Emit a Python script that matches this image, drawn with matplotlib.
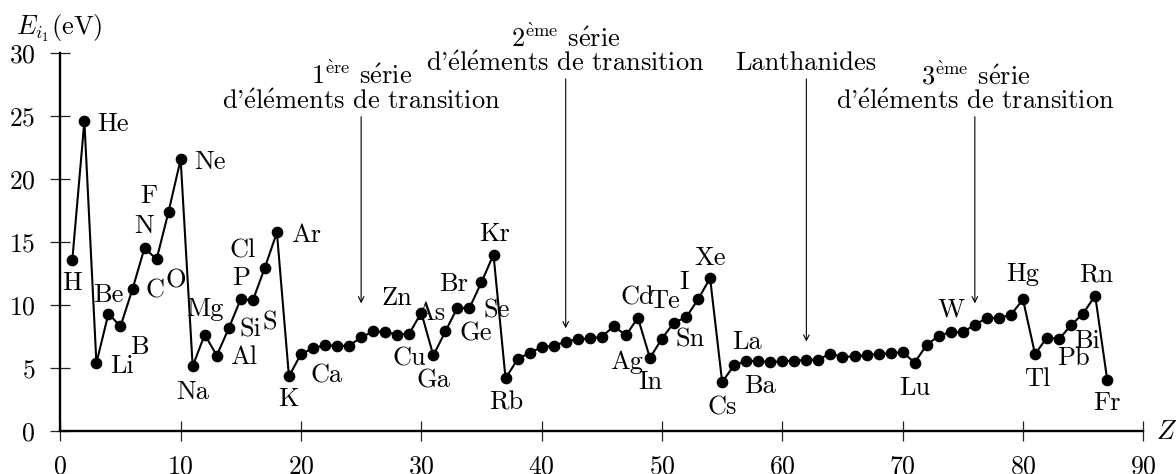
import numpy as np
import matplotlib
matplotlib.use("Agg")
from matplotlib import pyplot as plt

# numéro atomique, symbole, énergie de première ionisation (eV)
Z = np.arange(1, 88)
symbols = ["H", "He", "Li", "Be", "B", "C", "N", "O", "F", "Ne",
           "Na", "Mg", "Al", "Si", "P", "S", "Cl", "Ar", "K", "Ca",
           "Sc", "Ti", "V", "Cr", "Mn", "Fe", "Co", "Ni", "Cu", "Zn",
           "Ga", "Ge", "As", "Se", "Br", "Kr", "Rb", "Sr", "Y", "Zr",
           "Nb", "Mo", "Tc", "Ru", "Rh", "Pd", "Ag", "Cd", "In", "Sn",
           "Sb", "Te", "I", "Xe", "Cs", "Ba", "La", "Ce", "Pr", "Nd",
           "Pm", "Sm", "Eu", "Gd", "Tb", "Dy", "Ho", "Er", "Tm", "Yb",
           "Lu", "Hf", "Ta", "W", "Re", "Os", "Ir", "Pt", "Au", "Hg",
           "Tl", "Pb", "Bi", "Po", "At", "Rn", "Fr"]
E = [13.60, 24.59, 5.39, 9.32, 8.30, 11.26, 14.53, 13.62, 17.42, 21.56,
     5.14, 7.65, 5.99, 8.15, 10.49, 10.36, 12.97, 15.76, 4.34, 6.11,
     6.56, 6.83, 6.75, 6.77, 7.43, 7.90, 7.88, 7.64, 7.73, 9.39,
     6.00, 7.90, 9.79, 9.75, 11.81, 14.00, 4.18, 5.69, 6.22, 6.63,
     6.76, 7.09, 7.28, 7.36, 7.46, 8.34, 7.58, 8.99, 5.79, 7.34,
     8.61, 9.01, 10.45, 12.13, 3.89, 5.21, 5.58, 5.54, 5.47, 5.53,
     5.58, 5.64, 5.67, 6.15, 5.86, 5.94, 6.02, 6.11, 6.18, 6.25,
     5.43, 6.83, 7.55, 7.86, 7.83, 8.44, 8.97, 8.96, 9.23, 10.44,
     6.11, 7.42, 7.29, 8.41, 9.32, 10.75, 4.07]

# position des étiquettes (Z, E)
label_pos = {
    "H": (1.0, 11.72), "He": (4.41, 24.37), "Li": (5.10, 5.18), "Be": (3.99, 10.79),
    "B": (6.57, 6.69), "C": (7.87, 11.13), "O": (9.62, 11.90), "N": (6.96, 16.27),
    "F": (7.37, 18.65), "Ne": (12.45, 21.37), "Na": (11.01, 3.12), "Mg": (12.03, 9.66),
    "Al": (15.27, 5.85), "Si": (15.83, 8.07), "S": (17.43, 8.60), "P": (15.0, 12.12),
    "Cl": (15.13, 14.29), "Ar": (20.42, 15.56), "K": (18.99, 2.52), "Ca": (22.14, 4.37),
    "Zn": (27.96, 10.58), "As": (30.73, 9.39), "Cu": (29.01, 5.77), "Ga": (31.0, 3.97),
    "Br": (32.67, 11.67), "Se": (36.28, 9.55), "Ge": (34.53, 7.70), "Kr": (36.08, 15.63),
    "Rb": (37.02, 2.25), "Cd": (47.99, 10.61), "Te": (50.18, 10.32), "I": (51.87, 11.85),
    "Sn": (52.34, 7.22), "Ag": (47.02, 5.50), "In": (49.02, 3.91), "Xe": (54.01, 13.71),
    "Cs": (55.03, 1.88), "La": (57.06, 7.09), "Ba": (58.16, 3.60), "Lu": (71.05, 3.44),
    "W": (74.04, 9.60), "Hg": (80.0, 12.46), "Tl": (81.16, 4.13), "Pb": (84.15, 5.82),
    "Bi": (85.32, 7.17), "Rn": (86.07, 12.38), "Fr": (86.98, 2.25),
}

plt.rcParams['font.family'] = ['cmr10', 'DejaVu Serif']
plt.rcParams['mathtext.fontset'] = 'cm'
plt.rcParams['axes.formatter.use_mathtext'] = True
fs = 19

E_AIGU = r'$\acute{\mathrm{e}}$'


def fr(s):
    # cmr10 n'a pas de é : on passe par mathtext
    return s.replace('é', E_AIGU)


fig = plt.figure(figsize=(11.76, 4.74), dpi=100)
ax = fig.add_axes([0.05128, 0.09072, 0.92092, 0.79747])

ax.plot(Z, E, color='black', lw=1.5, marker='o', markersize=7.4, zorder=3)

for s in label_pos:
    x, y = label_pos[s]
    ax.text(x, y, s, ha='center', va='center', fontsize=fs)

# annotations
ligne2 = fr("d'éléments de transition")
ax.text(25.05, 28.25, r'1$^{\mathrm{\grave{e}re}}$ ' + fr('série'), ha='center', va='center', fontsize=fs)
ax.text(25.05, 26.13, ligne2, ha='center', va='center', fontsize=fs)
ax.text(42.0, 31.17, r'2$^{\mathrm{\grave{e}me}}$ ' + fr('série'), ha='center', va='center', fontsize=fs)
ax.text(42.0, 29.18, ligne2, ha='center', va='center', fontsize=fs)
ax.text(61.97, 29.18, "Lanthanides", ha='center', va='center', fontsize=fs)
ax.text(76.04, 28.25, r'3$^{\mathrm{\grave{e}me}}$ ' + fr('série'), ha='center', va='center', fontsize=fs)
ax.text(76.04, 26.13, ligne2, ha='center', va='center', fontsize=fs)

arr = dict(arrowstyle='->', lw=0.8, color='black', shrinkA=0, shrinkB=0)
ax.annotate('', xy=(25, 10.13), xytext=(25, 24.94), arrowprops=arr)
ax.annotate('', xy=(42, 8.15), xytext=(42, 27.94), arrowprops=arr)
ax.annotate('', xy=(62, 7.09), xytext=(62, 27.94), arrowprops=arr)
ax.annotate('', xy=(76, 10.13), xytext=(76, 24.94), arrowprops=arr)

ax.set_xlim(0, 90)
ax.set_ylim(0, 30)
ax.set_xticks(range(0, 91, 10))
ax.set_yticks(range(0, 31, 5))
for sp in ['top', 'right']:
    ax.spines[sp].set_visible(False)
for sp in ['left', 'bottom']:
    ax.spines[sp].set_linewidth(1.7)
ax.tick_params(direction='inout', length=14, width=0.9, color='#222222',
               labelsize=18.5)
ax.tick_params(axis='x', pad=10)
ax.tick_params(axis='y', pad=11)

ax.text(-0.1, 31.98, r'$E_{i_1}$(eV)', ha='center', va='center', fontsize=fs)
ax.text(91.97, -0.06, r'$Z$', ha='center', va='center', fontsize=fs)

fig.savefig('out.png', dpi=100)
